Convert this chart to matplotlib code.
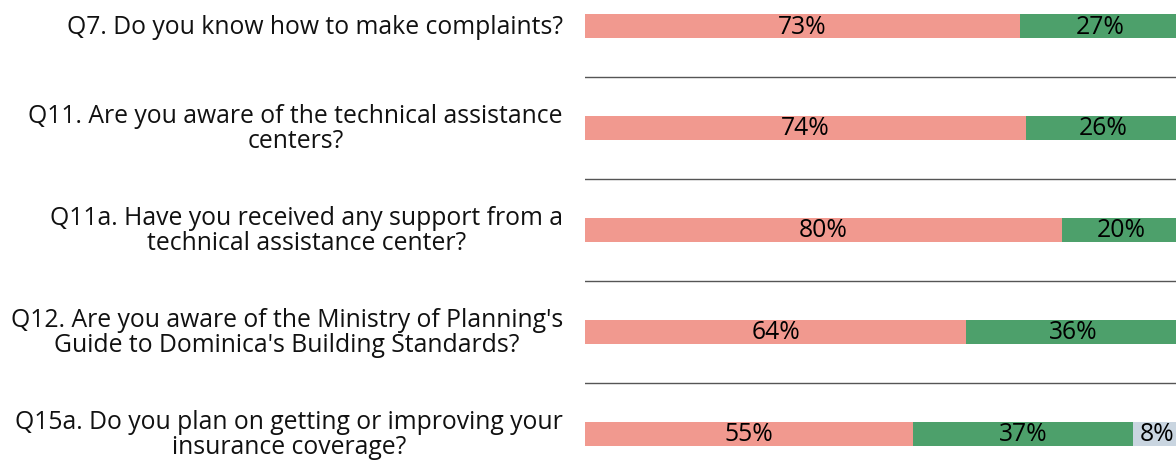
import matplotlib
matplotlib.use("Agg")
import matplotlib.pyplot as plt

questions = [
    "Q7. Do you know how to make complaints?",
    "Q11. Are you aware of the technical assistance\ncenters?",
    "Q11a. Have you received any support from a\ntechnical assistance center?",
    "Q12. Are you aware of the Ministry of Planning's\nGuide to Dominica's Building Standards?",
    "Q15a. Do you plan on getting or improving your\ninsurance coverage?",
]
series_a = [73, 74, 80, 64, 55]
series_b = [27, 26, 20, 36, 37]
series_c = [0, 0, 0, 0, 8]
colors = ["#F1998F", "#4DA06B", "#C9D5E0"]

W, H, DPI = 1176, 477, 100
fig = plt.figure(figsize=(W / DPI, H / DPI), dpi=DPI)
plt.rcParams['font.family'] = ['Open Sans', 'DejaVu Sans']
FS = 17.8
ax = fig.add_axes([585 / W, 0, 596 / W, 1])
ax.set_xlim(0, 100)
ax.set_ylim((H - 27) / 102, -27 / 102)
ax.axis('off')

ys = list(range(len(questions)))
left = [0] * len(ys)
for vals, col in zip([series_a, series_b, series_c], colors):
    ax.barh(ys, vals, left=left, height=0.245, color=col, edgecolor='none')
    for y, v, l in zip(ys, vals, left):
        if v > 0:
            ax.text(l + v / 2, y, f"{v}%", ha='center', va='center',
                    fontsize=FS, color='black')
    left = [a + b for a, b in zip(left, vals)]

for i in range(len(ys) - 1):
    ax.axhline(i + 0.5, color='#555555', lw=1)

tr = ax.get_yaxis_transform()
for y, q in zip(ys, questions):
    ax.text(-22 / 596, y, q, transform=tr, ha='right', va='center',
            multialignment='center', fontsize=FS, color='#111111',
            linespacing=1.0)

fig.savefig("out.png", dpi=DPI)
